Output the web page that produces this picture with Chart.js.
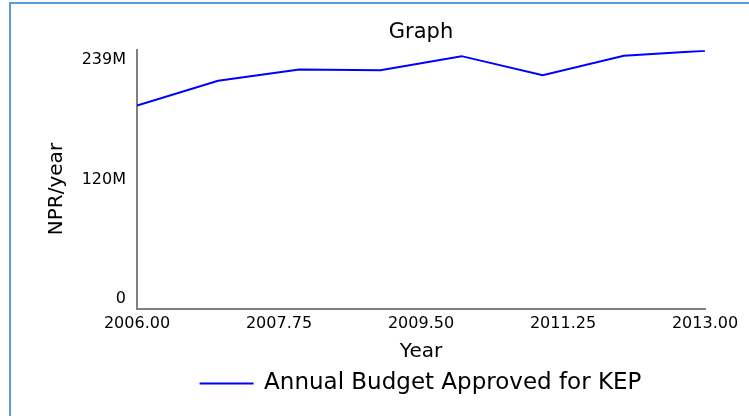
<!DOCTYPE html>
<html>
<head>
<meta charset="utf-8">
<script src="https://cdn.jsdelivr.net/npm/chart.js@4.4.1/dist/chart.umd.min.js"></script>
<style>
  body { margin: 0; background: #fff; }
  .wrap { position: relative; width: 749px; height: 416px; }
  .frame { position: absolute; left: 9px; top: 2px; right: 0; bottom: 0;
           border-left: 2px solid #5b9bd5; border-top: 2px solid #5b9bd5; pointer-events: none; }
  canvas { position: absolute; left: 0; top: 0; }
</style>
</head>
<body>
<div class="wrap">
  <canvas class="chart" width="749" height="416"></canvas>
  <div class="frame"></div>
</div>
<script>
// years and approved budget (NPR per year)
let years = [2006, 2007, 2008, 2009, 2010, 2011, 2012, 2013];
let budget = [187.8e6, 210.7e6, 221.1e6, 220.5e6, 233.5e6, 215.9e6, 233.8e6, 238.5e6];

let yTickValues = [0, 119.5e6, 239e6];
let yTickLabels = [['0', ''], '120M', ['', '239M']];
let xTickValues = [2006, 2007.75, 2009.5, 2011.25, 2013];

let points = [];
for (let i = 0; i < years.length; i++) {
  points.push({ x: years[i], y: budget[i] });
}

let tickFont = { family: 'DejaVu Sans', size: 16 };
let axisTitleFont = { family: 'DejaVu Sans', size: 20 };

let options = {
  type: 'line',
  data: {
    datasets: [
      {
        label: 'Annual Budget Approved for KEP',
        data: points,
        fill: false,
        borderColor: '#0000ff',
        backgroundColor: '#0000ff',
        borderWidth: 2,
        pointRadius: 0,
        tension: 0,
      },
    ],
  },
  options: {
    responsive: false,
    animation: false,
    layout: { padding: { left: 41, right: 44, top: 0, bottom: 11 } },
    plugins: {
      title: {
        display: true,
        text: 'Graph',
        fullSize: false,
        color: '#000',
        font: { family: 'DejaVu Sans', size: 21, weight: 'normal' },
        padding: { top: 20, bottom: 5 },
      },
      legend: {
        position: 'bottom',
        fullSize: false,
        labels: {
          color: '#000',
          font: { family: 'DejaVu Sans', size: 23 },
          boxWidth: 52,
          boxHeight: 0.01,
          padding: 4,
        },
      },
      tooltip: { enabled: false },
    },
    scales: {
      x: {
        type: 'linear',
        min: 2006,
        max: 2013,
        grid: { display: false, drawTicks: false },
        border: { color: '#808080', width: 2 },
        afterBuildTicks: function (scale) {
          scale.ticks = xTickValues.map(function (v) { return { value: v }; });
        },
        ticks: {
          color: '#000',
          font: tickFont,
          padding: 5,
          maxRotation: 0,
          callback: function (v) { return Number(v).toFixed(2); },
        },
        title: { display: true, text: 'Year', color: '#000', font: axisTitleFont, padding: { top: 2, bottom: 4 } },
      },
      y: {
        min: 0,
        max: 239e6,
        grid: { display: false, drawTicks: false },
        border: { color: '#808080', width: 2 },
        afterBuildTicks: function (scale) {
          scale.ticks = yTickValues.map(function (v) { return { value: v }; });
        },
        afterFit: function (scale) { scale.width = 96; },
        ticks: {
          color: '#000',
          font: tickFont,
          padding: 11,
          callback: function (v, i) { return yTickLabels[i]; },
        },
        // trailing spaces nudge the rotated title down a little
        title: { display: true, text: 'NPR/year   ', color: '#000', font: axisTitleFont, padding: { top: 4, bottom: 4 } },
      },
    },
  },
};

let chart = new Chart(document.querySelector('.chart'), options);
</script>
</body>
</html>
